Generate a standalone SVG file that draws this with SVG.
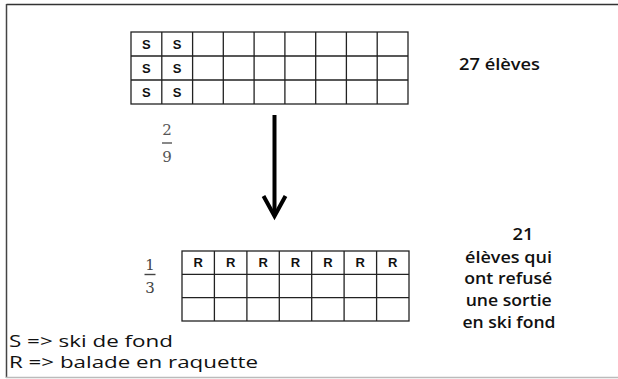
<svg xmlns="http://www.w3.org/2000/svg" width="618" height="379" viewBox="0 0 618 379">
<style>
.g{fill:none;stroke:#222;stroke-width:1.3}
.c{font-family:"Liberation Sans",Arial,sans-serif;font-weight:bold;font-size:13px;fill:#111;text-anchor:middle}
.t{font-family:"Open Sans","Noto Sans",sans-serif;font-size:17px;fill:#111}
.b{font-family:"Open Sans","Noto Sans",sans-serif;font-weight:600;font-size:17px;fill:#111;text-anchor:middle}
.f{font-family:"DejaVu Serif","Liberation Serif",serif;font-size:15px;text-anchor:middle}
</style>
<rect width="618" height="379" fill="#fff"/>
<g id="frame">
<line x1="6.5" y1="4.5" x2="618" y2="4.5" stroke="#333" stroke-width="1.5"/>
<line x1="6.5" y1="4" x2="6.5" y2="378" stroke="#444" stroke-width="1.5"/>
<line x1="6" y1="377.5" x2="618" y2="377.5" stroke="#bbb" stroke-width="1.5"/>
</g>
<g id="grid-top">
<rect class="g" x="131" y="32" width="277" height="72"/>
<path class="g" d="M131 56H408M131 80H408M161.8 32V104M192.6 32V104M223.3 32V104M254.1 32V104M284.9 32V104M315.7 32V104M346.4 32V104M377.2 32V104"/>
<text class="c" x="146.4" y="49">S</text><text class="c" x="177.2" y="49">S</text>
<text class="c" x="146.4" y="73">S</text><text class="c" x="177.2" y="73">S</text>
<text class="c" x="146.4" y="97">S</text><text class="c" x="177.2" y="97">S</text>
</g>
<g id="label-27">
<text class="b" x="499.5" y="70" textLength="81" lengthAdjust="spacingAndGlyphs">27 élèves</text>
</g>
<g id="frac-29">
<text class="f" x="167" y="135" fill="#555">2</text>
<line x1="162" y1="143" x2="172" y2="143" stroke="#555" stroke-width="1.4"/>
<text class="f" x="167" y="162" fill="#555">9</text>
</g>
<g id="connectors">
<line x1="274.5" y1="115" x2="274.5" y2="216" stroke="#000" stroke-width="4"/>
<polyline points="263.5,196 274.5,216 285.5,196" fill="none" stroke="#000" stroke-width="4" stroke-linejoin="miter"/>
</g>
<g id="frac-13">
<text class="f" x="150" y="270" fill="#444" font-size="16">1</text>
<line x1="144.5" y1="274.5" x2="155.5" y2="274.5" stroke="#444" stroke-width="1.4"/>
<text class="f" x="150" y="293" fill="#444" font-size="16">3</text>
</g>
<g id="grid-bottom">
<rect class="g" x="182" y="251" width="227" height="70"/>
<path class="g" d="M182 274.3H409M182 297.6H409M214.4 251V321M246.9 251V321M279.3 251V321M311.7 251V321M344.1 251V321M376.6 251V321"/>
<text class="c" x="198.2" y="267">R</text><text class="c" x="230.6" y="267">R</text>
<text class="c" x="263.1" y="267">R</text><text class="c" x="295.5" y="267">R</text>
<text class="c" x="327.9" y="267">R</text><text class="c" x="360.3" y="267">R</text>
<text class="c" x="392.8" y="267">R</text>
</g>
<g id="label-21">
<text class="b" x="523" y="240" textLength="21" lengthAdjust="spacingAndGlyphs">21</text>
<text class="b" x="508.5" y="263" textLength="87" lengthAdjust="spacingAndGlyphs">élèves qui</text>
<text class="b" x="508.3" y="284" textLength="88" lengthAdjust="spacingAndGlyphs">ont refusé</text>
<text class="b" x="508.7" y="306" textLength="86" lengthAdjust="spacingAndGlyphs">une sortie</text>
<text class="b" x="509" y="328" textLength="93" lengthAdjust="spacingAndGlyphs">en ski fond</text>
</g>
<g id="legend">
<text class="t" x="9" y="347" textLength="164" lengthAdjust="spacingAndGlyphs">S =&gt; ski de fond</text>
<text class="t" x="9" y="368" textLength="249" lengthAdjust="spacingAndGlyphs">R =&gt; balade en raquette</text>
</g>
</svg>
